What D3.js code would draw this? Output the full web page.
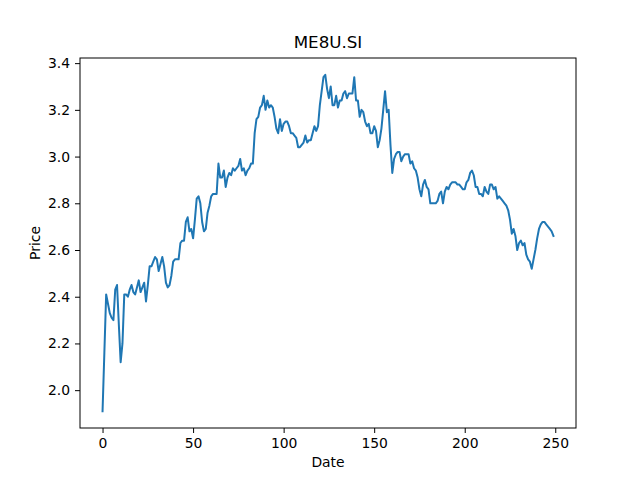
<!DOCTYPE html>
<html>
<head>
<meta charset="utf-8">
<script src="https://cdn.jsdelivr.net/npm/d3@7"></script>
<style>
  body { margin: 0; background: #fff; }
  text { font-family: "DejaVu Sans", sans-serif; }
</style>
</head>
<body>
<svg id="chart" width="640" height="480"></svg>
<script>
const title = "ME8U.SI";
const xTicks = [0, 50, 100, 150, 200, 250];
const yTicks = [2.0, 2.2, 2.4, 2.6, 2.8, 3.0, 3.2, 3.4];
const prices = [
  1.91, 2.16, 2.41, 2.37, 2.33, 2.31, 2.30, 2.43, 2.45, 2.28,
  2.12, 2.20, 2.41, 2.41, 2.40, 2.43, 2.45, 2.42, 2.41, 2.44,
  2.47, 2.42, 2.44, 2.46, 2.38, 2.45, 2.53, 2.53, 2.55, 2.57,
  2.56, 2.51, 2.54, 2.57, 2.53, 2.46, 2.44, 2.45, 2.49, 2.55,
  2.56, 2.56, 2.56, 2.63, 2.64, 2.64, 2.72, 2.74, 2.68, 2.69,
  2.65, 2.73, 2.82, 2.83, 2.80, 2.72, 2.68, 2.69, 2.76, 2.79,
  2.83, 2.84, 2.84, 2.84, 2.97, 2.91, 2.91, 2.94, 2.87, 2.91,
  2.93, 2.92, 2.95, 2.94, 2.95, 2.96, 2.99, 2.94, 2.95, 2.92,
  2.94, 2.95, 2.97, 2.97, 3.10, 3.16, 3.17, 3.21, 3.22, 3.26,
  3.20, 3.24, 3.21, 3.22, 3.21, 3.17, 3.12, 3.10, 3.16, 3.11,
  3.14, 3.15, 3.15, 3.13, 3.10, 3.10, 3.09, 3.08, 3.04, 3.04,
  3.05, 3.06, 3.09, 3.06, 3.07, 3.07, 3.10, 3.13, 3.11, 3.13,
  3.22, 3.28, 3.34, 3.35, 3.29, 3.25, 3.30, 3.22, 3.22, 3.26,
  3.21, 3.24, 3.24, 3.27, 3.28, 3.25, 3.27, 3.27, 3.27, 3.34,
  3.24, 3.24, 3.17, 3.20, 3.19, 3.15, 3.13, 3.14, 3.10, 3.10,
  3.13, 3.11, 3.04, 3.07, 3.12, 3.20, 3.28, 3.19, 3.20, 3.05,
  2.93, 2.99, 3.01, 3.02, 3.02, 2.98, 3.00, 3.01, 3.01, 3.01,
  2.97, 2.98, 2.95, 2.94, 2.91, 2.86, 2.83, 2.88, 2.90, 2.87,
  2.86, 2.80, 2.80, 2.80, 2.80, 2.81, 2.84, 2.85, 2.80, 2.85,
  2.87, 2.86, 2.88, 2.89, 2.89, 2.89, 2.88, 2.88, 2.87, 2.86,
  2.86, 2.89, 2.90, 2.93, 2.94, 2.92, 2.87, 2.87, 2.84, 2.84,
  2.83, 2.87, 2.85, 2.84, 2.88, 2.88, 2.86, 2.87, 2.82, 2.83,
  2.82, 2.81, 2.80, 2.79, 2.77, 2.73, 2.67, 2.69, 2.66, 2.60,
  2.63, 2.64, 2.62, 2.63, 2.58, 2.56, 2.55, 2.52, 2.56, 2.60,
  2.65, 2.69, 2.71, 2.72, 2.72, 2.71, 2.70, 2.69, 2.68, 2.66
];

const svg = d3.select("#chart");
const margin = { top: 58, right: 64, bottom: 52, left: 80 };
const W = 640, H = 480;

const n = prices.length;
const xPad = (n - 1) * 0.05;
const x = d3.scaleLinear()
  .domain([-xPad, n - 1 + xPad])
  .range([margin.left, W - margin.right]);

const yMin = d3.min(prices), yMax = d3.max(prices);
const yPad = (yMax - yMin) * 0.05;
const y = d3.scaleLinear()
  .domain([yMin - yPad, yMax + yPad])
  .range([H - margin.bottom, margin.top]);

svg.append("path")
  .datum(prices)
  .attr("fill", "none")
  .attr("stroke", "#1f77b4")
  .attr("stroke-width", 2)
  .attr("stroke-linejoin", "round")
  .attr("stroke-linecap", "square")
  .attr("d", d3.line().x((d, i) => x(i)).y(d => y(d)));

const xAxis = svg.append("g")
  .attr("transform", `translate(0,${H - margin.bottom})`)
  .call(d3.axisBottom(x).tickValues(xTicks).tickSize(5).tickPadding(5).tickFormat(d3.format("d")));
const yAxis = svg.append("g")
  .attr("transform", `translate(${margin.left},0)`)
  .call(d3.axisLeft(y).tickValues(yTicks).tickSize(5).tickPadding(5).tickFormat(d3.format(".1f")));

[xAxis, yAxis].forEach(a => {
  a.select(".domain").remove();
  a.selectAll("text").attr("font-size", 13.9).attr("font-family", "DejaVu Sans, sans-serif").attr("fill", "#000");
  a.selectAll("line").attr("stroke", "#000").attr("stroke-width", 1);
});

svg.append("rect")
  .attr("x", margin.left).attr("y", margin.top)
  .attr("width", W - margin.left - margin.right)
  .attr("height", H - margin.top - margin.bottom)
  .attr("fill", "none").attr("stroke", "#000").attr("stroke-width", 1);

svg.append("text")
  .attr("x", (margin.left + W - margin.right) / 2).attr("y", 48)
  .attr("text-anchor", "middle").attr("font-size", 16.7)
  .text(title);

svg.append("text")
  .attr("x", (margin.left + W - margin.right) / 2).attr("y", 467)
  .attr("text-anchor", "middle").attr("font-size", 13.9)
  .text("Date");

svg.append("text")
  .attr("transform", `translate(40,${(margin.top + H - margin.bottom) / 2}) rotate(-90)`)
  .attr("text-anchor", "middle").attr("font-size", 13.9)
  .text("Price");
</script>
</body>
</html>
